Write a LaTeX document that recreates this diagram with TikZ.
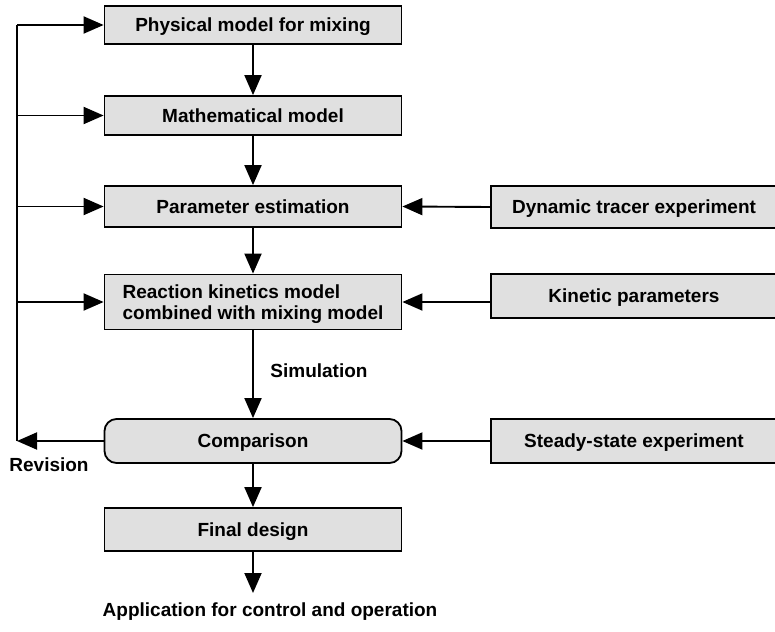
\documentclass[tikz,border=0pt]{standalone}
\usepackage{fontspec}
\setmainfont{Liberation Sans}
\usetikzlibrary{arrows.meta}
\begin{document}
\begin{tikzpicture}[x=1pt,y=-1pt,
  box/.style={draw=black,line width=1.8pt,fill=black!12,minimum width=297pt,inner sep=0pt,align=center,text depth=0pt,font=\fontsize{19}{21}\selectfont\bfseries},
  rbox/.style={box,minimum width=286pt},
  rnd/.style={box,rounded corners=12pt},
  lbl/.style={font=\fontsize{19}{21}\selectfont\bfseries,inner sep=0pt},
  arr/.style={line width=1.9pt,-{Triangle[length=20pt,width=17pt]}},
  ln/.style={line width=1.9pt}]
\useasboundingbox (0,0) rectangle (775,631);
\clip (0,0) rectangle (775,631);
\node[box,minimum height=38pt] (phys) at (253,25) {Physical model for mixing};
\node[box,minimum height=39pt] (math) at (253,115.5) {Mathematical model};
\node[box,minimum height=41pt] (par) at (253,206.5) {Parameter estimation};
\node[box,minimum height=55pt,align=left] (rk) at (253,302) {Reaction kinetics model\\combined with mixing model};
\node[rnd,minimum height=44pt] (cmp) at (253,441) {Comparison};
\node[box,minimum height=43pt] (fin) at (253,529.5) {Final design};
\node[rbox,minimum height=42pt] (dyn) at (634,207) {Dynamic tracer experiment};
\node[rbox,minimum height=44pt] (kin) at (634,296) {Kinetic parameters};
\node[rbox,minimum height=44pt] (ss) at (634,441) {Steady-state experiment};
\node[lbl] (app) at (270,612) {Application for control and operation};
\node[lbl] (rev) at (49,465) {Revision};
\node[lbl] (sim) at (319,371) {Simulation};
\coordinate (fbx) at (17,0);
\coordinate (appt) at (253,593);
\draw[arr] (phys) -- (math);
\draw[arr] (math) -- (par);
\draw[arr] (par) -- (rk);
\draw[arr] (rk) -- (cmp);
\draw[arr] (cmp) -- (fin);
\draw[arr] (fin.south) -- (appt);
\draw[arr] (dyn.west) -- (par.east);
\draw[arr] (kin.west |- rk.east) -- (rk.east);
\draw[arr] (ss.west) -- (cmp.east);
\draw[ln] (fbx |- phys.west) -- (fbx |- cmp.west);
\draw[arr] (cmp.west) -- (fbx |- cmp.west);
\draw[arr] (fbx |- phys.west) -- (phys.west);
\draw[arr] (fbx |- math.west) -- (math.west);
\draw[arr] (fbx |- par.west) -- (par.west);
\draw[arr] (fbx |- rk.west) -- (rk.west);
\end{tikzpicture}
\end{document}
